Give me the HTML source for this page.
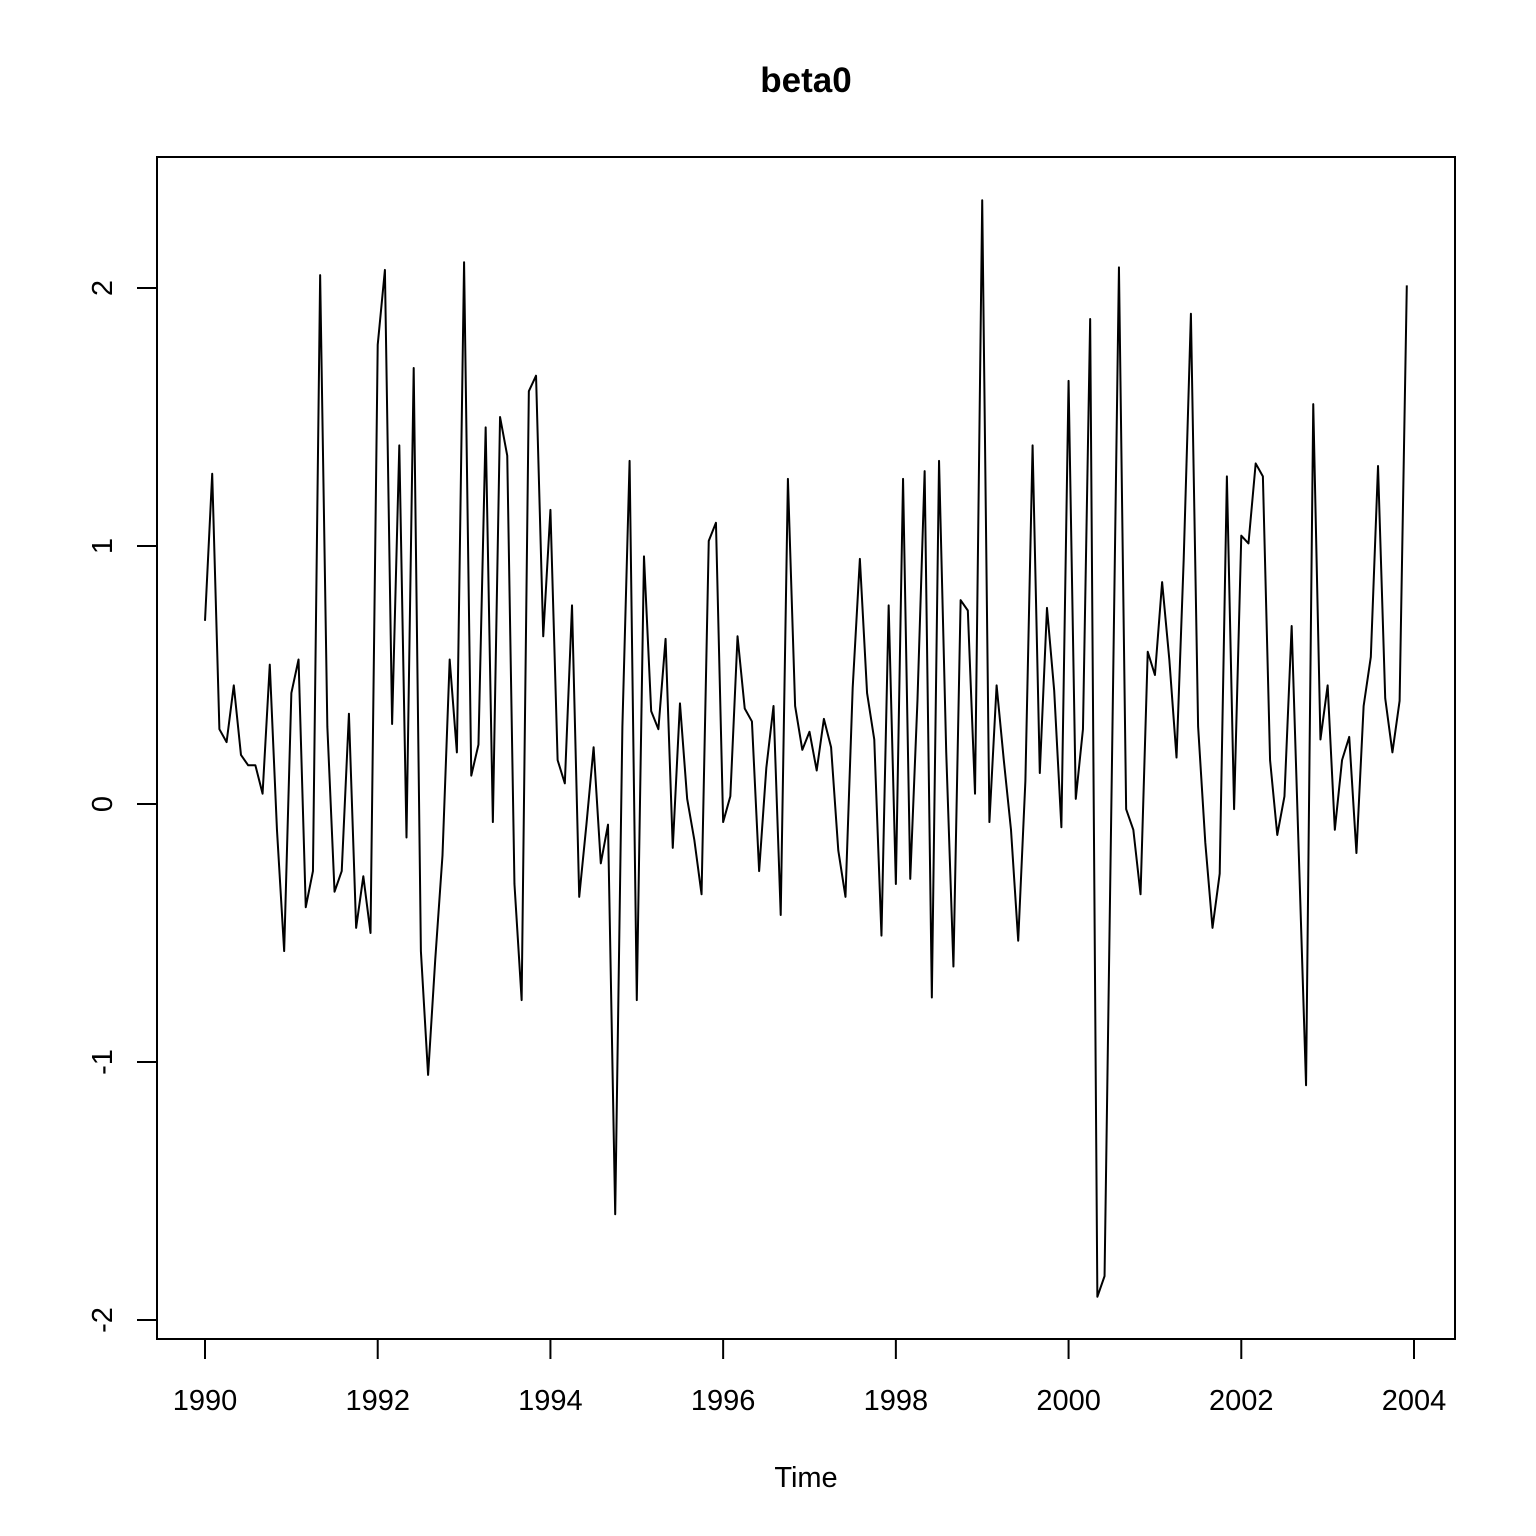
<!DOCTYPE html>
<html><head><meta charset="utf-8"><title>beta0</title>
<style>
html,body{margin:0;padding:0;background:#fff;}
svg{display:block;font-family:"Liberation Sans",Arial,sans-serif;}
</style></head>
<body>
<svg id="chart" width="1536" height="1536" viewBox="0 0 1536 1536" xmlns="http://www.w3.org/2000/svg">
<rect x="0" y="0" width="1536" height="1536" fill="#fff"/>
<text x="806" y="92" text-anchor="middle" font-size="35" font-weight="bold">beta0</text>
<text x="806" y="1487" text-anchor="middle" font-size="29">Time</text>
<rect x="157" y="157" width="1298" height="1182" fill="none" stroke="#000" stroke-width="2"/>
<g id="xaxis"></g>
<g id="yaxis"></g>
<g id="series"></g>
</svg>
<script>
const startYear = 1990;
const freq = 12;
const beta0 = [
0.71,1.28,0.29,0.24,0.46,0.19,0.15,0.15,0.04,0.54,-0.1,-0.57,
0.43,0.56,-0.40,-0.26,2.05,0.3,-0.34,-0.26,0.35,-0.48,-0.28,-0.50,
1.78,2.07,0.31,1.39,-0.13,1.69,-0.57,-1.05,-0.6,-0.2,0.56,0.2,
2.10,0.11,0.23,1.46,-0.07,1.5,1.35,-0.31,-0.76,1.6,1.66,0.65,
1.14,0.17,0.08,0.77,-0.36,-0.08,0.22,-0.23,-0.08,-1.59,0.3,1.33,
-0.76,0.96,0.36,0.29,0.64,-0.17,0.39,0.02,-0.14,-0.35,1.02,1.09,
-0.07,0.03,0.65,0.37,0.32,-0.26,0.14,0.38,-0.43,1.26,0.38,0.21,
0.28,0.13,0.33,0.22,-0.18,-0.36,0.45,0.95,0.43,0.25,-0.51,0.77,
-0.31,1.26,-0.29,0.4,1.29,-0.75,1.33,0.2,-0.63,0.79,0.75,0.04,
2.34,-0.07,0.46,0.17,-0.1,-0.53,0.09,1.39,0.12,0.76,0.44,-0.09,
1.64,0.02,0.29,1.88,-1.91,-1.83,0.1,2.08,-0.02,-0.1,-0.35,0.59,
0.5,0.86,0.56,0.18,0.95,1.9,0.3,-0.15,-0.48,-0.27,1.27,-0.02,
1.04,1.01,1.32,1.27,0.17,-0.12,0.03,0.69,-0.2,-1.09,1.55,0.25,
0.46,-0.1,0.17,0.26,-0.19,0.38,0.57,1.31,0.41,0.2,0.4,2.01
];
const xTicks = [1990,1992,1994,1996,1998,2000,2002,2004];
const yTicks = [-2,-1,0,1,2];

const NS = "http://www.w3.org/2000/svg";
function xScale(t){ return 205 + (t - 1990) * (1414 - 205) / 14; }
function yScale(v){ return 804 - v * 258; }

const xg = document.getElementById('xaxis');
const yg = document.getElementById('yaxis');
const sg = document.getElementById('series');

const xl = document.createElementNS(NS,'line');


xl.setAttribute('x1', xScale(xTicks[0])); xl.setAttribute('x2', xScale(xTicks[xTicks.length-1]));
xl.setAttribute('y1', 1339); xl.setAttribute('y2', 1339);
xl.setAttribute('stroke', '#000'); xl.setAttribute('stroke-width', '2');
xg.appendChild(xl);
xTicks.forEach(t => {
  const tk = document.createElementNS(NS,'line');
  
  
  tk.setAttribute('x1', xScale(t)); tk.setAttribute('x2', xScale(t));
  tk.setAttribute('y1', 1339); tk.setAttribute('y2', 1359);
  tk.setAttribute('stroke', '#000'); tk.setAttribute('stroke-width', '2');
  xg.appendChild(tk);
  const lb = document.createElementNS(NS,'text');
  
  
  lb.setAttribute('x', xScale(t)); lb.setAttribute('y', 1410);
  lb.setAttribute('text-anchor', 'middle'); lb.setAttribute('font-size', '29');
  lb.textContent = t;
  xg.appendChild(lb);
});

const yl = document.createElementNS(NS,'line');


yl.setAttribute('x1', 157); yl.setAttribute('x2', 157);
yl.setAttribute('y1', yScale(yTicks[0])); yl.setAttribute('y2', yScale(yTicks[yTicks.length-1]));
yl.setAttribute('stroke', '#000'); yl.setAttribute('stroke-width', '2');
yg.appendChild(yl);
yTicks.forEach(v => {
  const tk = document.createElementNS(NS,'line');
  
  
  tk.setAttribute('x1', 137); tk.setAttribute('x2', 157);
  tk.setAttribute('y1', yScale(v)); tk.setAttribute('y2', yScale(v));
  tk.setAttribute('stroke', '#000'); tk.setAttribute('stroke-width', '2');
  yg.appendChild(tk);
  const lb = document.createElementNS(NS,'text');
  
  
  lb.setAttribute('x', 112); lb.setAttribute('y', yScale(v));
  lb.setAttribute('text-anchor', 'middle'); lb.setAttribute('font-size', '29');
  lb.setAttribute('transform', 'rotate(-90 112 ' + yScale(v) + ')');
  lb.textContent = v;
  yg.appendChild(lb);
});

const pts = beta0.map((v,i) => xScale(startYear + i / freq).toFixed(2) + ',' + yScale(v).toFixed(2)).join(' ');
const pl = document.createElementNS(NS,'polyline');


pl.setAttribute('points', pts);
pl.setAttribute('fill', 'none'); pl.setAttribute('stroke', '#000');
pl.setAttribute('stroke-width', '2'); pl.setAttribute('stroke-linejoin', 'round');
sg.appendChild(pl);
</script>
</body></html>
